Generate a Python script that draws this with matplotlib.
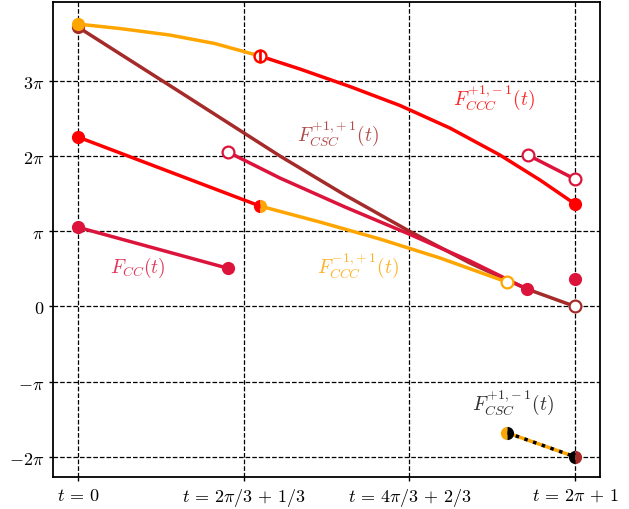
import numpy as np
import matplotlib
matplotlib.use("Agg")
import matplotlib.pyplot as plt

plt.rcParams['mathtext.fontset'] = 'cm'
plt.rcParams['font.family'] = 'serif'
plt.rcParams['font.serif'] = ['DejaVu Serif']

pi = np.pi
T = 2*pi + 1

# curves (t, y/pi)
ccc_pm_a_t = [0, 0.615, 1.348, 2.008, 2.667]            # orange top piece
ccc_pm_a_y = [3.755, 3.696, 3.609, 3.496, 3.330]
ccc_pm_b_t = [2.667, 3.253, 3.986, 4.719, 5.451, 6.184, 6.770, T]   # red top piece
ccc_pm_b_y = [3.330, 3.157, 2.924, 2.672, 2.372, 2.013, 1.681, 1.362]

ccc_mp_a_t = [0, 2.667]                   # red lower piece
ccc_mp_a_y = [2.253, 1.335]
ccc_mp_b_t = [2.667, 3.546, 4.425, 5.305, 6.287]   # orange lower piece
ccc_mp_b_y = [1.335, 1.122, 0.896, 0.644, 0.324]

csc_pp_t = [0, 1.495, 2.960, 3.913, 4.851, 5.744, 6.580, T]      # brown
csc_pp_y = [3.715, 2.851, 2.0, 1.481, 1.003, 0.577, 0.231, 0.0]

cc_t = [0, 2.198]
cc_y = [1.053, 0.507]
cc2_t = [2.198, 2.960, 3.913, 4.851, 5.744, 6.580]
cc2_y = [2.053, 1.707, 1.322, 0.963, 0.604, 0.231]
cc3_t = [6.594, T]
cc3_y = [2.013, 1.693]
cc_dot_y = 0.36

csc_pm_t = [6.287, T]
csc_pm_y = [-1.68, -2.0]

orange = '#FFA500'
red = '#FF0000'
brown = '#A52A2A'
crimson = '#DC143C'

def P(v):
    return np.array(v)*pi

fig, ax = plt.subplots(figsize=(6.29, 5.10), dpi=100)
fig.subplots_adjust(left=0.0843, right=0.954, top=0.994, bottom=0.0627)

lw = 2.5
ms = 9.5

ax.plot(csc_pp_t, P(csc_pp_y), color=brown, lw=lw, zorder=3)
ax.plot(cc2_t, P(cc2_y), color=crimson, lw=lw, zorder=3)
ax.plot(ccc_mp_b_t, P(ccc_mp_b_y), color=orange, lw=lw, zorder=3)
ax.plot(ccc_mp_a_t, P(ccc_mp_a_y), color=red, lw=lw, zorder=3)
ax.plot(ccc_pm_a_t, P(ccc_pm_a_y), color=orange, lw=lw, zorder=3)
ax.plot(ccc_pm_b_t, P(ccc_pm_b_y), color=red, lw=lw, zorder=3)
ax.plot(cc_t, P(cc_y), color=crimson, lw=lw, zorder=3)
ax.plot(cc3_t, P(cc3_y), color=crimson, lw=lw, zorder=3)
ax.plot(csc_pm_t, P(csc_pm_y), color=orange, lw=lw, zorder=3)
ax.plot(csc_pm_t, P(csc_pm_y), color='black', lw=lw, ls=':', zorder=3)

# filled markers
ax.plot(csc_pp_t[0], P(csc_pp_y[0]), 'o', color=brown, ms=ms, mew=0, zorder=4)
ax.plot(ccc_pm_a_t[0], P(ccc_pm_a_y[0]), 'o', color=orange, ms=ms, mew=0, zorder=4)
ax.plot(ccc_mp_a_t[0], P(ccc_mp_a_y[0]), 'o', color=red, ms=ms, mew=0, zorder=4)
ax.plot(ccc_pm_b_t[-1], P(ccc_pm_b_y[-1]), 'o', color=red, ms=ms, mew=0, zorder=4)
ax.plot(cc_t, P(cc_y), 'o', color=crimson, ms=ms, mew=0, zorder=4)
ax.plot(cc2_t[-1], P(cc2_y[-1]), 'o', color=crimson, ms=ms, mew=0, zorder=4)
ax.plot(T, P(cc_dot_y), 'o', color=crimson, ms=ms, mew=0, zorder=4)

# half filled markers
ax.plot(ccc_mp_a_t[-1], P(ccc_mp_a_y[-1]), 'o', fillstyle='left', markerfacecolor=red,
        markerfacecoloralt=orange, ms=ms, mew=0, zorder=4)
ax.plot(csc_pm_t[0], P(csc_pm_y[0]), 'o', fillstyle='left', markerfacecolor=orange,
        markerfacecoloralt='black', ms=ms, mew=0, zorder=4)
ax.plot(csc_pm_t[1], P(csc_pm_y[1]), 'o', fillstyle='left', markerfacecolor='black',
        markerfacecoloralt=brown, ms=ms, mew=0, zorder=4)

# open markers
mso = 8.5
ax.plot(ccc_pm_a_t[-1], P(ccc_pm_a_y[-1]), 'o', fillstyle='left', markerfacecolor='white',
        markeredgecolor=orange, ms=mso, mew=1.6, zorder=4)
ax.plot(ccc_pm_a_t[-1], P(ccc_pm_a_y[-1]), 'o', fillstyle='right', markerfacecolor='white',
        markeredgecolor=red, ms=mso, mew=1.6, zorder=4)
ax.plot(cc2_t[0], P(cc2_y[0]), 'o', color=crimson, mfc='white', ms=mso, mew=1.6, zorder=4)
ax.plot(cc3_t, P(cc3_y), 'o', color=crimson, mfc='white', ms=mso, mew=1.6, zorder=4)
ax.plot(ccc_mp_b_t[-1], P(ccc_mp_b_y[-1]), 'o', color=orange, mfc='white', ms=mso, mew=1.6, zorder=4)
ax.plot(csc_pp_t[-1], P(csc_pp_y[-1]), 'o', color=brown, mfc='white', ms=mso, mew=1.6, zorder=4)

# labels
fs = 14
ax.text(0.88, P(0.524), r'$F_{CC}(t)$', color=crimson, alpha=0.85, fontsize=fs, ha='center', va='center')
ax.text(3.81, P(2.306), r'$F_{CSC}^{+1,\!+1}(t)$', color=brown, alpha=0.85, fontsize=fs, ha='center', va='center')
ax.text(6.096, P(2.784), r'$F_{CCC}^{+1,\!-1}(t)$', color=red, alpha=0.85, fontsize=fs, ha='center', va='center')
ax.text(4.103, P(0.55), r'$F_{CCC}^{-1,\!+1}(t)$', color=orange, alpha=0.85, fontsize=fs, ha='center', va='center')
ax.text(6.375, P(-1.271), r'$F_{CSC}^{+1,\!-1}(t)$', color='black', alpha=0.8, fontsize=fs, ha='center', va='center')

ax.set_xlim(-0.366, 7.65)
ax.set_ylim(-2.269*pi, 4.048*pi)
ax.set_xticks([0, 2*pi/3 + 1/3, 4*pi/3 + 2/3, T])
ax.set_xticklabels([r'$t\,=\,0$', r'$t\,=\,2\pi/3\,+\,1/3$', r'$t\,=\,4\pi/3\,+\,2/3$', r'$t\,=\,2\pi\,+\,1$'], fontsize=13)
ax.set_yticks(P([-2, -1, 0, 1, 2, 3]))
ax.set_yticklabels([r'$-2\pi$', r'$-\pi$', r'$0$', r'$\pi$', r'$2\pi$', r'$3\pi$'], fontsize=13)
ax.grid(True, color='black', ls='--', lw=0.9)
ax.set_axisbelow(True)
for s in ax.spines.values():
    s.set_linewidth(1.3)
ax.tick_params(length=3, width=1)

plt.savefig('out.png', dpi=100)
